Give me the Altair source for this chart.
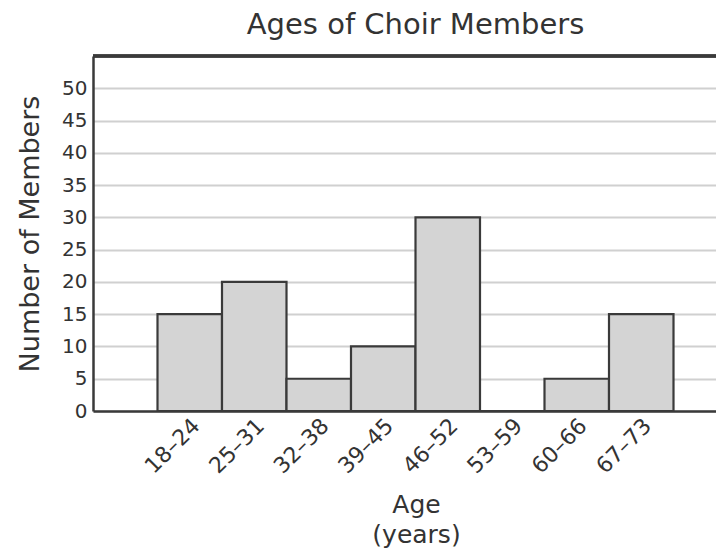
import altair as alt
import pandas as pd

# ---- data ----
age_groups = ["18–24", "25–31", "32–38", "39–45", "46–52", "53–59", "60–66", "67–73"]
members = [15, 20, 5, 10, 30, 0, 5, 15]
y_ticks = [0, 5, 10, 15, 20, 25, 30, 35, 40, 45, 50]

df = pd.DataFrame({
    "group": age_groups,
    "members": members,
    "start": [i + 1 for i in range(len(age_groups))],
    "end": [i + 2 for i in range(len(age_groups))],
})
tick_pos = [i + 1.5 for i in range(len(age_groups))]
label_expr = "[" + ",".join("'%s'" % g for g in age_groups) + "][floor(datum.value) - 1]"

FONT = "DejaVu Sans"
TXT = "#333333"
W, H = 623, 355

xscale = alt.Scale(domain=[0, W / 64.5], nice=False, zero=False)
yscale = alt.Scale(domain=[0, 55], nice=False)

bars = alt.Chart(df).mark_bar(
    fill="#d4d4d4", stroke="#3a3a3a", strokeWidth=2.2
).encode(
    x=alt.X("start:Q", scale=xscale,
            axis=alt.Axis(values=tick_pos, labelExpr=label_expr, labelAngle=-45,
                          labelAlign="right", labelBaseline="middle",
                          labelPadding=11, labelOffset=6,
                          ticks=False, grid=False, domain=True,
                          domainColor="#3a3a3a", domainWidth=2.5,
                          labelFont=FONT, labelFontSize=22, labelColor=TXT,
                          title=["Age", "(years)"], titleFont=FONT, titleFontSize=25,
                          titleFontWeight="normal", titleColor=TXT,
                          titleX=323, titleY=101, titleBaseline="alphabetic",
                          titleLineHeight=30, titleAlign="center")),
    x2="end:Q",
    y=alt.Y("members:Q", scale=yscale,
            axis=alt.Axis(values=y_ticks, ticks=False, labelPadding=6,
                          grid=True, gridColor="#d0d0d0", gridWidth=2,
                          domain=True, domainColor="#3a3a3a", domainWidth=2.5,
                          labelFont=FONT, labelFontSize=20, labelColor=TXT,
                          title="Number of Members", titleFont=FONT, titleFontSize=27,
                          titleFontWeight="normal", titleColor=TXT,
                          titleX=-63, titleBaseline="middle")),
    y2=alt.datum(0),
)

top_border = alt.Chart(df).mark_rule(color="#3a3a3a", strokeWidth=2.5).encode(
    x=alt.value(0), x2=alt.value(W), y=alt.value(0)
)

chart = alt.layer(top_border, bars).properties(
    width=W, height=H,
    title=alt.TitleParams("Ages of Choir Members", font=FONT, fontSize=29,
                          fontWeight="normal", color=TXT, anchor="middle",
                          frame="group", dx=11, offset=15, baseline="top"),
    autosize=alt.AutoSizeParams(type="none"),
    padding={"left": 85, "top": 48, "right": 0, "bottom": 141},
).configure_view(stroke=None)

chart.save("out.html", embed_options={"renderer": "svg", "actions": False})
